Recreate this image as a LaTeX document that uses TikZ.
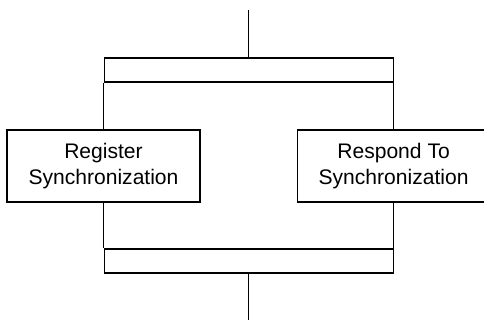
\documentclass[tikz,border=0pt]{standalone}
\usepackage{fontspec}
\setmainfont{Liberation Sans}
\usepackage{tikz}
\usetikzlibrary{positioning}

\begin{document}
\begin{tikzpicture}[x=1pt,y=1pt]
      \tikzstyle{point} = [coordinate]
      \tikzstyle{bar} = [rectangle, draw, line width=0.8pt, minimum width=216.75pt, minimum height=18pt, inner sep=0pt]
      \tikzstyle{box} = [rectangle, draw, line width=0.8pt, minimum width=144.75pt, minimum height=54pt, align=center, font=\fontsize{15.8}{20}\selectfont]
      \useasboundingbox (0,0) rectangle (363,240);
      % join bars
      \node (in) [point] at (186.4,232.5) {};
      \node (fork) [bar] at (186.4,187.5) {};
      \node (join) [bar] at (186.4,44.25) {};
      \node (out) [point] at (186.4,0) {};
      % activities
      \node (register) [box] at (fork.west |- 0,115.5) {Register\\Synchronization};
      \node (respond) [box] at (fork.east |- 0,115.5) {Respond To\\Synchronization};
      \draw [line width=0.8pt] (in)--(fork);
      \draw [line width=0.8pt] (fork.south west)--(register);
      \draw [line width=0.8pt] (fork.south east)--(respond);
      \draw [line width=0.8pt] (register)--(join.north west);
      \draw [line width=0.8pt] (respond)--(join.north east);
      \draw [line width=0.8pt] (join)--(out);
\end{tikzpicture}
\end{document}
